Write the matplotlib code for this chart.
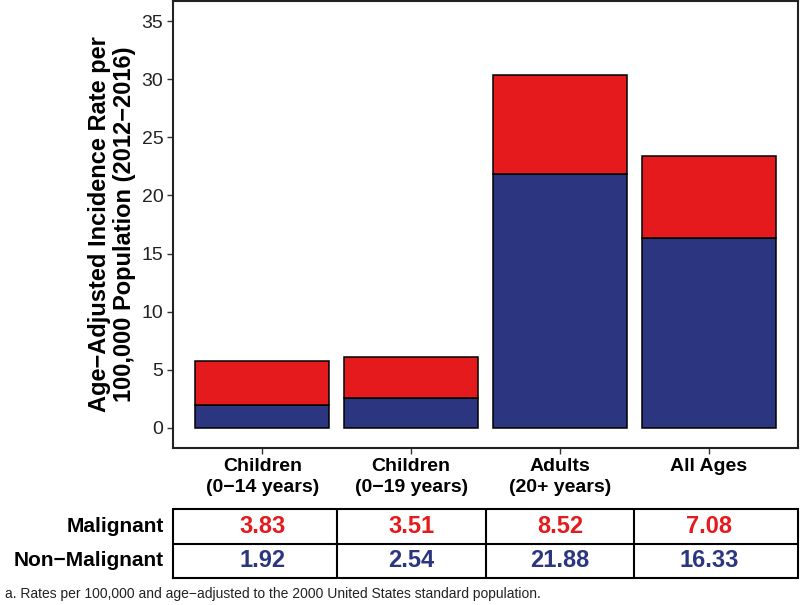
import numpy as np
import matplotlib
matplotlib.use("Agg")
import matplotlib.pyplot as plt

plt.rcParams['font.family'] = ['Liberation Sans', 'DejaVu Sans']

# data
categories = ["Children\n(0\u221214 years)", "Children\n(0\u221219 years)",
              "Adults\n(20+ years)", "All Ages"]
malignant = [3.83, 3.51, 8.52, 7.08]
non_malignant = [1.92, 2.54, 21.88, 16.33]
row_labels = ["Malignant", "Non\u2212Malignant"]

red = "#E41A1C"
navy = "#2B3580"

fig = plt.figure(figsize=(8, 6.05), dpi=100)
W, H = 800, 605

def box(l, t, r, b):
    return [l / W, 1 - b / H, (r - l) / W, (b - t) / H]

# main bar panel
ax = fig.add_axes(box(173, 1, 798, 448))
x = np.arange(len(categories))
ax.bar(x, non_malignant, width=0.9, color=navy, edgecolor="black", linewidth=1.1)
ax.bar(x, malignant, width=0.9, bottom=non_malignant, color=red,
       edgecolor="black", linewidth=1.1)
ax.set_xlim(-0.6, 3.6)
ax.set_ylim(-1.75, 36.75)
ax.set_yticks(range(0, 36, 5))
ax.set_xticks(x)
ax.set_xticklabels(categories, fontsize=14, fontweight="bold", linespacing=1.3)
ax.tick_params(axis="y", labelsize=14, length=4, width=1, color="#333333",
               labelcolor="#222222", pad=3)
ax.tick_params(axis="x", length=4, width=1, color="#333333", pad=3)
for s in ax.spines.values():
    s.set_linewidth(1.5)
    s.set_color("#222222")
ax.set_ylabel("Age\u2212Adjusted Incidence Rate per\n100,000 Population (2012\u22122016)",
              fontsize=17, fontweight="bold", linespacing=1.1, labelpad=4)

# table under the chart, columns follow the bar axis
tb = fig.add_axes(box(173, 509, 798, 578))
tb.set_xlim(-0.6, 3.6)
tb.set_ylim(0, 2)
tb.axis("off")
lw = 1.5
tb.plot([-0.6, 3.6, 3.6, -0.6, -0.6], [0, 0, 2, 2, 0], color="black", lw=lw,
        clip_on=False, solid_joinstyle="miter")
tb.plot([-0.6, 3.6], [1, 1], color="black", lw=lw)
for k in range(1, len(categories)):
    tb.plot([k - 0.5, k - 0.5], [0, 2], color="black", lw=lw)
for i in range(len(categories)):
    tb.text(i, 1.5, f"{malignant[i]:.2f}", color=red, fontsize=17,
            fontweight="bold", ha="center", va="center")
    tb.text(i, 0.5, f"{non_malignant[i]:.2f}", color=navy, fontsize=17,
            fontweight="bold", ha="center", va="center")
tb.text(-0.66, 1.5, row_labels[0], fontsize=15, fontweight="bold",
        ha="right", va="center")
tb.text(-0.66, 0.5, row_labels[1], fontsize=15, fontweight="bold",
        ha="right", va="center")

fig.text(5 / W, 1 - 594 / H,
         "a. Rates per 100,000 and age\u2212adjusted to the 2000 United States standard population.",
         fontsize=10, ha="left", va="center", color="#222222")

fig.savefig("out.png", dpi=100)
